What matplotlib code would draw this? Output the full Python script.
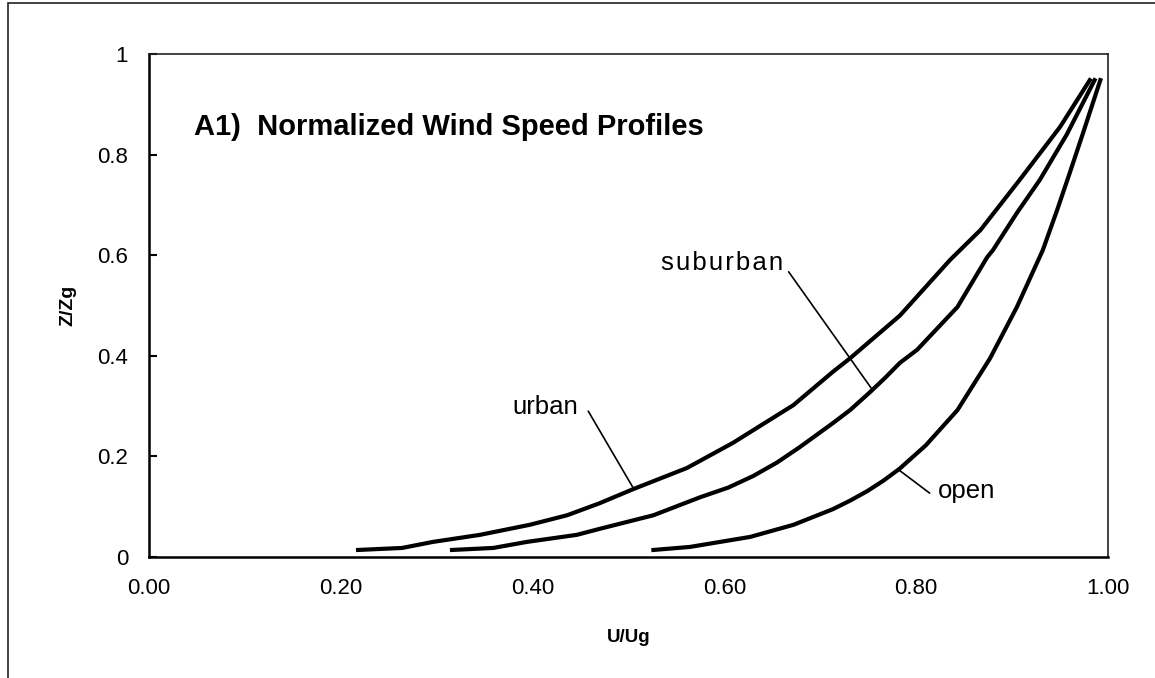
import matplotlib
matplotlib.use('Agg')
import matplotlib.pyplot as plt
from matplotlib.patches import Rectangle

plt.rcParams['font.family'] = ['Liberation Sans', 'DejaVu Sans']

# profiles: U/Ug (x) against Z/Zg (y)
urban_x = [0.218, 0.264, 0.296, 0.345, 0.397, 0.436, 0.470, 0.505, 0.561, 0.609,
           0.672, 0.713, 0.731, 0.783, 0.835, 0.867, 0.908, 0.950, 0.981]
urban_y = [0.014, 0.018, 0.030, 0.044, 0.064, 0.083, 0.107, 0.135, 0.177, 0.227,
           0.302, 0.368, 0.395, 0.480, 0.590, 0.650, 0.750, 0.855, 0.948]

suburban_x = [0.316, 0.359, 0.394, 0.446, 0.470, 0.526, 0.575, 0.604, 0.630, 0.655,
              0.679, 0.713, 0.731, 0.752, 0.768, 0.783, 0.801, 0.843, 0.874, 0.880,
              0.905, 0.929, 0.957, 0.986]
suburban_y = [0.014, 0.018, 0.030, 0.044, 0.056, 0.083, 0.119, 0.138, 0.161, 0.188,
              0.219, 0.266, 0.292, 0.328, 0.357, 0.386, 0.412, 0.497, 0.596, 0.610,
              0.684, 0.750, 0.840, 0.948]

open_x = [0.526, 0.564, 0.627, 0.672, 0.713, 0.731, 0.749, 0.766, 0.783, 0.810,
          0.843, 0.877, 0.905, 0.932, 0.947, 0.960, 0.974, 0.992]
open_y = [0.014, 0.020, 0.040, 0.064, 0.095, 0.112, 0.131, 0.152, 0.176, 0.222,
          0.292, 0.395, 0.497, 0.610, 0.690, 0.763, 0.843, 0.948]

x_ticks = [0.0, 0.2, 0.4, 0.6, 0.8, 1.0]
x_ticklabels = ['0.00', '0.20', '0.40', '0.60', '0.80', '1.00']
y_ticks = [0, 0.2, 0.4, 0.6, 0.8, 1.0]
y_ticklabels = ['0', '0.2', '0.4', '0.6', '0.8', '1']

fig = plt.figure(figsize=(11.55, 6.78), dpi=100)
ax = fig.add_axes([149/1155, 1 - 557/678, (1108 - 149)/1155, (557 - 54)/678])

# outer chart frame (cut off at right and bottom)
fig.patches.append(Rectangle((8/1155, -0.05), 1.2, 1 - 3/678 + 0.05,
                             transform=fig.transFigure, fill=False,
                             edgecolor='#222222', linewidth=1.2))

ax.plot(urban_x, urban_y, color='black', lw=3)
ax.plot(suburban_x, suburban_y, color='black', lw=3)
ax.plot(open_x, open_y, color='black', lw=3)

ax.set_xlim(0, 1)
ax.set_ylim(0, 1)
ax.set_xticks(x_ticks)
ax.set_xticklabels(x_ticklabels)
ax.set_yticks(y_ticks)
ax.set_yticklabels(y_ticklabels)
ax.tick_params(axis='x', length=0, pad=15, labelsize=16)
ax.tick_params(axis='y', direction='in', length=6, width=1.5, pad=15, labelsize=16)

for s in ['left', 'bottom']:
    ax.spines[s].set_linewidth(1.8)
    ax.spines[s].set_color('black')
for s in ['top', 'right']:
    ax.spines[s].set_linewidth(1.2)
    ax.spines[s].set_color('#222222')

ax.set_xlabel('U/Ug', fontsize=13.5, fontweight='bold', labelpad=22)
ax.set_ylabel('Z/Zg', fontsize=14, fontweight='bold', labelpad=15)

ax.text(0.047, 0.855, 'A1)  Normalized Wind Speed Profiles', fontsize=21,
        fontweight='bold', va='center', ha='left')

# curve labels with leader lines
lead = dict(arrowstyle='-', color='black', lw=1.2, shrinkA=0, shrinkB=0)
ax.text(0.447, 0.298, 'urban', fontsize=18.5, ha='right', va='center')
ax.annotate('', xy=(0.505, 0.137), xytext=(0.458, 0.290), arrowprops=lead)
ax.text(0.661, 0.584, '\u200a'.join('suburban'), fontsize=18.5,
        ha='right', va='center')
ax.annotate('', xy=(0.753, 0.336), xytext=(0.667, 0.567), arrowprops=lead)
ax.text(0.823, 0.131, 'open', fontsize=18.5, ha='left', va='center')
ax.annotate('', xy=(0.782, 0.173), xytext=(0.814, 0.127), arrowprops=lead)

fig.savefig('out.png', dpi=100)
